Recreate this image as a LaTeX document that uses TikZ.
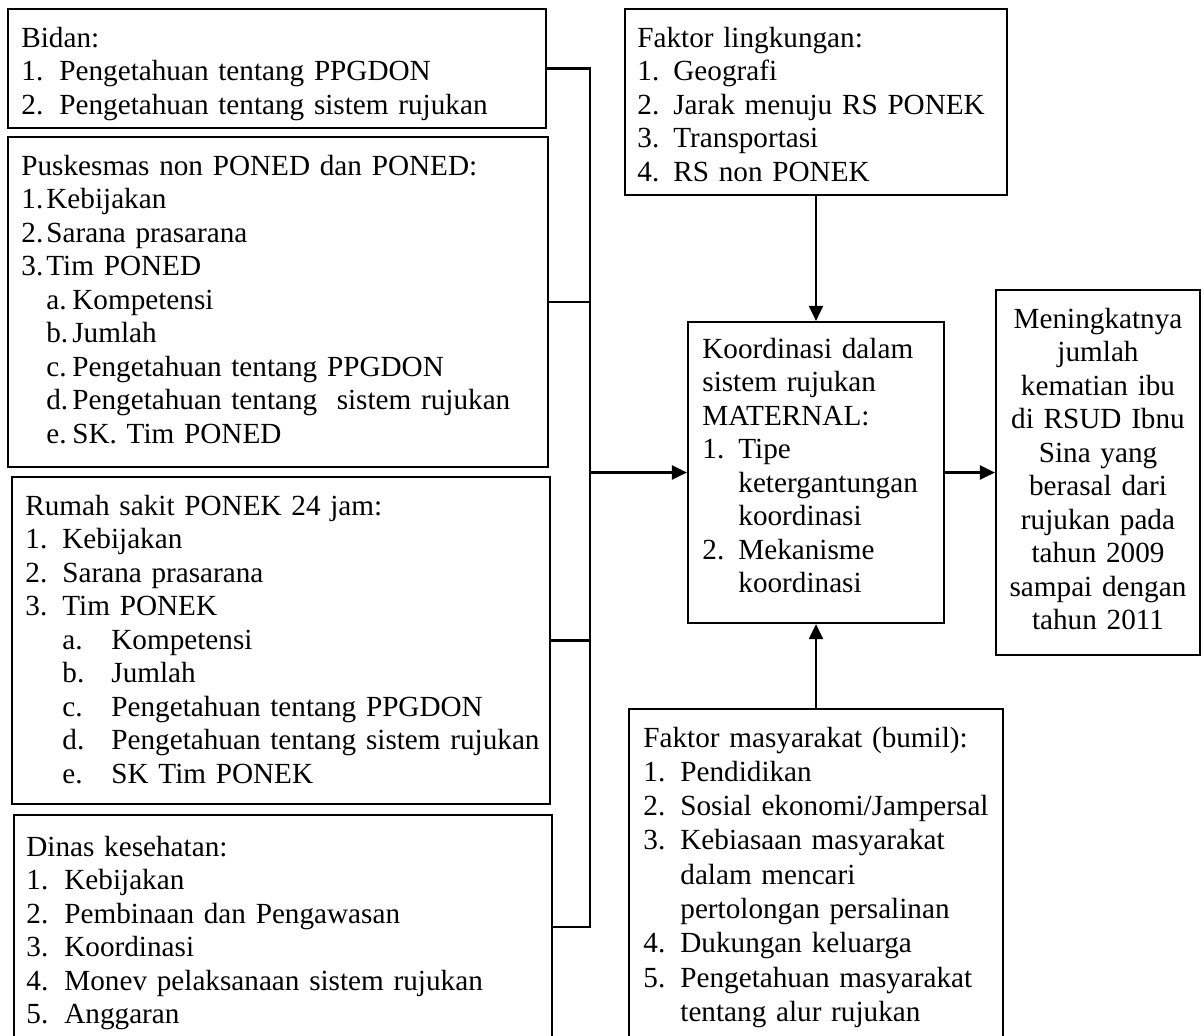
\documentclass[tikz,border=0pt]{standalone}
\usepackage{fontspec}
\setmainfont{Liberation Serif}
\usetikzlibrary{arrows.meta,fit}
\newcommand{\nomor}[2]{\makebox[#1][l]{#2}}
\tikzset{
  kotak/.style={draw, line width=1.1pt, inner sep=0pt},
  teks/.style={anchor=base west, inner sep=0pt, text width=290pt, align=left, font=\fontsize{14.6}{16.75}\selectfont},
  garis/.style={line width=1.1pt},
  panah/.style={line width=1.1pt, -{Triangle[length=7.5pt,width=7pt]}}
}
\begin{document}
\begin{tikzpicture}[x=0.5pt,y=-0.5pt]  %Satuan dalam piksel
    \useasboundingbox (0,0) rectangle (1204,1035);
    \clip (0,0) rectangle (1204,1035);
                        %Kotak kiri
    \node[kotak, fit={(8,9) (546,128)}] (bidan) {}; %Bidan
    \node[kotak, fit={(8,137) (548,467)}] (puskesmas) {}; %Puskesmas
    \node[kotak, fit={(12,477) (550,804)}] (rs) {}; %Rumah sakit
    \node[kotak, fit={(14,815) (552,1039)}] (dinkes) {}; %Dinas kesehatan
                        %Kotak kanan
    \node[kotak, fit={(625,9) (1007,195)}] (lingkungan) {}; %Faktor lingkungan
    \node[kotak, fit={(688,322) (944,623)}] (koordinasi) {}; %Koordinasi
    \node[kotak, fit={(996,290) (1200,655)}] (hasil) {}; %Hasil
    \node[kotak, fit={(629,709) (1003,1045)}] (masyarakat) {}; %Faktor masyarakat
                        %Isi kotak
    \node[teks] (tbidan) at (21,47) {Bidan:\\
        \nomor{19pt}{1.}Pengetahuan tentang PPGDON\\
        \nomor{19pt}{2.}Pengetahuan tentang sistem rujukan};
    \node[teks] (tpuskesmas) at (21,175) {Puskesmas non PONED dan PONED:\\
        \nomor{12.5pt}{1.}Kebijakan\\
        \nomor{12.5pt}{2.}Sarana prasarana\\
        \nomor{12.5pt}{3.}Tim PONED\\
        \hspace*{12.5pt}\nomor{13pt}{a.}Kompetensi\\
        \hspace*{12.5pt}\nomor{13pt}{b.}Jumlah\\
        \hspace*{12.5pt}\nomor{13pt}{c.}Pengetahuan tentang PPGDON\\
        \hspace*{12.5pt}\nomor{13pt}{d.}Pengetahuan tentang\ \ sistem rujukan\\
        \hspace*{12.5pt}\nomor{13pt}{e.}SK. Tim PONED};
    \node[teks] (trs) at (25,515) {Rumah sakit PONEK 24 jam:\\
        \nomor{18.5pt}{1.}Kebijakan\\
        \nomor{18.5pt}{2.}Sarana prasarana\\
        \nomor{18.5pt}{3.}Tim PONEK\\
        \hspace*{18.5pt}\nomor{24.5pt}{a.}Kompetensi\\
        \hspace*{18.5pt}\nomor{24.5pt}{b.}Jumlah\\
        \hspace*{18.5pt}\nomor{24.5pt}{c.}Pengetahuan tentang PPGDON\\
        \hspace*{18.5pt}\nomor{24.5pt}{d.}Pengetahuan tentang sistem rujukan\\
        \hspace*{18.5pt}\nomor{24.5pt}{e.}SK Tim PONEK};
    \node[teks] (tdinkes) at (26,856) {Dinas kesehatan:\\
        \nomor{19pt}{1.}Kebijakan\\
        \nomor{19pt}{2.}Pembinaan dan Pengawasan\\
        \nomor{19pt}{3.}Koordinasi\\
        \nomor{19pt}{4.}Monev pelaksanaan sistem rujukan\\
        \nomor{19pt}{5.}Anggaran};
    \node[teks] (tlingkungan) at (637,47) {Faktor lingkungan:\\
        \nomor{18pt}{1.}Geografi\\
        \nomor{18pt}{2.}Jarak menuju RS PONEK\\
        \nomor{18pt}{3.}Transportasi\\
        \nomor{18pt}{4.}RS non PONEK};
    \node[teks] (tkoordinasi) at (702,358) {Koordinasi dalam\\
        sistem rujukan\\
        MATERNAL:\\
        \nomor{18pt}{1.}Tipe\\
        \hspace*{18pt}ketergantungan\\
        \hspace*{18pt}koordinasi\\
        \nomor{18pt}{2.}Mekanisme\\
        \hspace*{18pt}koordinasi};
    \node[teks, anchor=base, text width=110pt, align=center] (thasil) at (1098,328) {Meningkatnya\\
        jumlah\\ kematian ibu\\ di RSUD Ibnu\\ Sina yang\\ berasal dari\\
        rujukan pada\\ tahun 2009\\ sampai dengan\\ tahun 2011};
    \node[teks, font=\fontsize{14.6}{17.15}\selectfont] (tmasyarakat) at (643,747) {Faktor masyarakat (bumil):\\
        \nomor{18.5pt}{1.}Pendidikan\\
        \nomor{18.5pt}{2.}Sosial ekonomi/Jampersal\\
        \nomor{18.5pt}{3.}Kebiasaan masyarakat\\
        \hspace*{18.5pt}dalam mencari\\
        \hspace*{18.5pt}pertolongan persalinan\\
        \nomor{18.5pt}{4.}Dukungan keluarga\\
        \nomor{18.5pt}{5.}Pengetahuan masyarakat\\
        \hspace*{18.5pt}tentang alur rujukan};
                        %Garis penghubung
    \coordinate (cabang) at (590,472.5); %Titik cabang
    \draw[garis] (bidan.east) -| (dinkes.east -| cabang) -- (dinkes.east); %Kurung kiri
    \draw[garis] (puskesmas.east) -- (puskesmas.east -| cabang);
    \draw[garis] (rs.east) -- (rs.east -| cabang);
    \draw[panah] (cabang) -- (koordinasi.west); %Ke koordinasi
    \draw[panah] (lingkungan.south) -- (koordinasi.north);
    \draw[panah] (masyarakat.north) -- (koordinasi.south);
    \draw[panah] (koordinasi.east) -- (hasil.west); %Ke hasil
\end{tikzpicture}
\end{document}
